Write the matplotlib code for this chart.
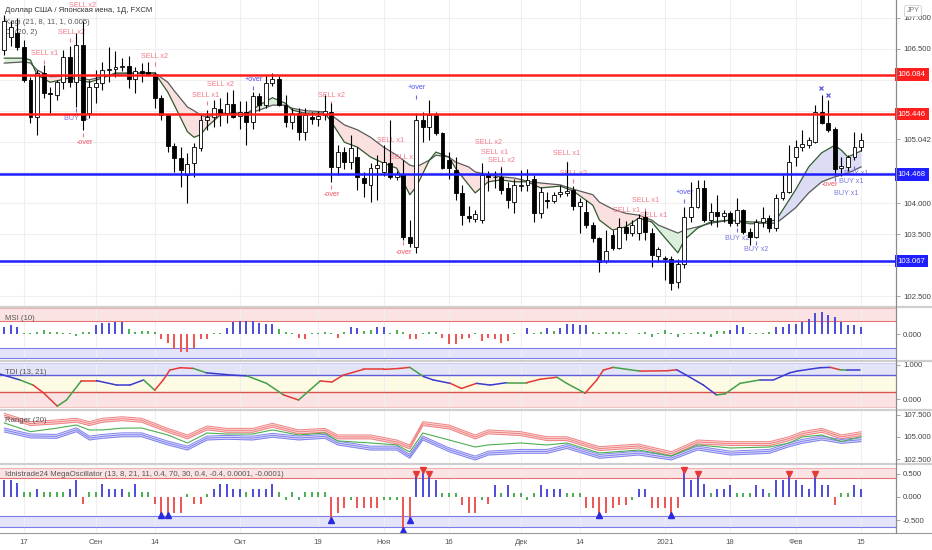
import numpy as np
import matplotlib
matplotlib.use('Agg')
import matplotlib.pyplot as plt
import matplotlib.transforms as mtransforms
from matplotlib.lines import Line2D

plt.rcParams['font.family'] = ['Liberation Sans', 'DejaVu Sans']

# ---------------- data (USD/JPY daily, FXCM) ----------------
opens = [106.48, 106.70, 106.76, 106.53, 106.00, 105.40, 106.11, 105.79, 105.75, 105.96,
         106.37, 105.96, 106.56, 105.46, 105.88, 105.95, 106.16, 106.18, 106.20, 106.23,
         106.02, 106.15, 106.13, 106.10, 105.70, 105.43, 104.93, 104.73, 104.46, 104.65,
         104.90, 105.35, 105.40, 105.53, 105.47, 105.61, 105.41, 105.48, 105.32, 105.74,
         105.59, 105.95, 106.02, 105.60, 105.32, 105.46, 105.15, 105.40, 105.36, 105.43,
         105.48, 104.59, 104.83, 104.67, 104.75, 104.41, 104.30, 104.57, 104.50, 104.65,
         104.43, 104.48, 103.45, 103.29, 105.35, 105.24, 105.43, 105.14, 104.70, 104.54,
         104.17, 103.80, 103.75, 103.73, 104.46, 104.43, 104.43, 104.25, 104.02, 104.28,
         104.30, 104.40, 103.84, 104.05, 104.04, 104.15, 104.17, 104.22, 103.96, 103.86,
         103.65, 103.44, 103.06, 103.49, 103.28, 103.62, 103.52, 103.52, 103.78, 103.52,
         103.15, 103.12, 103.10, 102.73, 103.02, 103.78, 103.94, 104.25, 103.73, 103.86,
         103.80, 103.84, 103.68, 103.89, 103.54, 103.46, 103.70, 103.76, 103.60, 104.09,
         104.19, 104.75, 104.91, 104.94, 105.00, 105.48, 105.30, 105.20, 104.57, 104.59,
         104.75, 104.91]
highs = [107.05, 106.95, 107.00, 106.64, 106.05, 106.16, 106.24, 105.88, 106.00, 106.48,
         106.54, 106.75, 106.95, 106.00, 106.16, 106.29, 106.53, 106.46, 106.35, 106.38,
         106.20, 106.27, 106.29, 106.12, 105.75, 105.45, 104.98, 104.91, 104.81, 104.98,
         105.43, 105.51, 105.67, 105.70, 105.80, 105.83, 105.65, 105.65, 105.80, 105.78,
         106.08, 106.11, 106.06, 105.75, 105.55, 105.55, 105.55, 105.48, 105.50, 105.75,
         105.62, 104.94, 104.92, 105.10, 104.91, 104.50, 104.65, 104.78, 104.94, 105.35,
         104.52, 104.70, 103.73, 105.46, 105.48, 105.67, 105.48, 105.15, 104.83, 104.75,
         104.30, 103.95, 103.90, 104.65, 104.52, 104.52, 104.59, 104.35, 104.40, 104.54,
         104.55, 104.46, 104.27, 104.19, 104.19, 104.30, 104.67, 104.28, 104.08, 104.06,
         103.70, 103.46, 103.57, 103.57, 103.76, 103.72, 103.73, 103.83, 103.87, 103.60,
         103.30, 103.15, 103.15, 103.10, 103.94, 104.35, 104.38, 104.38, 104.00, 104.14,
         103.90, 103.88, 104.09, 103.91, 103.60, 103.75, 103.94, 103.82, 104.15, 104.46,
         104.94, 105.03, 105.19, 105.08, 105.59, 105.75, 105.67, 105.24, 104.75, 104.78,
         105.16, 105.14]
lows = [106.40, 106.55, 106.48, 105.97, 105.30, 105.11, 105.70, 105.46, 105.67, 105.85,
        105.88, 105.56, 105.19, 105.38, 105.62, 105.83, 105.96, 106.05, 106.15, 105.87,
        105.79, 105.96, 106.06, 105.54, 105.35, 104.83, 104.51, 104.27, 104.00, 104.43,
        104.85, 105.19, 105.24, 105.25, 105.30, 105.38, 105.20, 104.94, 105.20, 105.50,
        105.55, 105.90, 105.57, 105.24, 105.20, 105.03, 105.03, 105.28, 105.25, 105.35,
        104.35, 104.46, 104.55, 104.56, 104.22, 104.10, 104.02, 104.05, 104.45, 104.40,
        104.38, 103.41, 103.29, 103.20, 104.99, 105.03, 105.10, 104.55, 104.40, 104.06,
        103.65, 103.70, 103.70, 103.68, 104.20, 104.25, 104.15, 103.93, 103.84, 104.20,
        104.20, 103.70, 103.76, 103.93, 104.00, 104.10, 104.12, 103.90, 103.52, 103.60,
        103.38, 102.89, 103.03, 103.24, 103.26, 103.41, 103.47, 103.41, 103.40, 102.97,
        103.05, 102.76, 102.60, 102.63, 102.95, 103.70, 103.92, 103.70, 103.65, 103.62,
        103.70, 103.64, 103.64, 103.50, 103.33, 103.44, 103.62, 103.54, 103.55, 104.05,
        104.17, 104.60, 104.85, 104.90, 104.98, 105.28, 105.15, 104.46, 104.45, 104.52,
        104.70, 104.85]
closes = [106.95, 106.85, 106.53, 106.00, 105.40, 106.11, 105.79, 105.77, 105.96, 106.37,
          105.96, 106.56, 105.35, 105.88, 105.95, 106.16, 106.18, 106.20, 106.23, 106.01,
          106.15, 106.11, 106.10, 105.70, 105.43, 104.93, 104.73, 104.54, 104.64, 104.91,
          105.35, 105.40, 105.54, 105.47, 105.61, 105.40, 105.48, 105.32, 105.74, 105.59,
          105.95, 106.02, 105.59, 105.32, 105.46, 105.15, 105.43, 105.36, 105.41, 105.50,
          104.59, 104.83, 104.67, 104.90, 104.43, 104.33, 104.57, 104.62, 104.67, 104.43,
          104.48, 103.45, 103.36, 105.35, 105.24, 105.43, 105.14, 104.57, 104.57, 104.17,
          103.81, 103.76, 103.83, 104.46, 104.43, 104.42, 104.22, 104.06, 104.29, 104.30,
          104.38, 103.84, 104.19, 104.04, 104.14, 104.18, 104.20, 103.96, 104.02, 103.65,
          103.44, 103.05, 103.23, 103.28, 103.62, 103.52, 103.65, 103.76, 103.54, 103.17,
          103.26, 103.10, 102.71, 103.02, 103.78, 103.94, 104.25, 103.73, 103.86, 103.80,
          103.84, 103.68, 103.89, 103.54, 103.46, 103.70, 103.76, 103.60, 104.09, 104.19,
          104.67, 104.91, 104.96, 105.03, 105.48, 105.30, 105.19, 104.56, 104.60, 104.75,
          104.91, 105.03]

date_pos = [3, 14, 23, 36, 48, 58, 68, 79, 88, 101, 111, 121, 131]
date_labels = ['17', 'Сен', '14', 'Окт', '19', 'Ноя', '16', 'Дек', '14', '2021', '18', 'Фев', '15']

level_values = [106.084, 105.446, 104.468, 103.067]
level_colors = ['#ff1e1e', '#ff1e1e', '#1e1eff', '#1e1eff']
price_ticks = [102.5, 103.5, 104.0, 105.042, 106.5, 107.0]

# Kagi lines (read at sample bars)
kagi_idx = [0, 3, 4, 5, 7, 10, 13, 15, 17, 21, 23, 25, 26, 28, 29, 30, 31, 33, 35, 37,
            39, 41, 43, 44, 46, 49, 50, 52, 54, 56, 58, 60, 62, 63, 65, 66, 68, 69, 71, 72,
            74, 76, 78, 80, 82, 85, 87, 90, 91, 93, 95, 97, 99, 100, 103, 104, 106, 108, 111, 114,
            116, 118, 119, 121, 123, 125, 127, 128, 129, 131]
kagi_fast = [106.35, 106.35, 106.32, 106.08, 105.96, 106.03, 105.96, 106.03, 106.11, 106.11,
             106.11, 105.80, 105.59, 105.16, 105.07, 105.11, 105.24, 105.43, 105.46, 105.45,
             105.59, 105.71, 105.62, 105.51, 105.46, 105.46, 105.32, 104.99, 104.91, 104.75,
             104.65, 104.57, 104.14, 104.27, 104.70, 104.83, 104.75, 104.57, 104.30, 104.17,
             104.35, 104.38, 104.35, 104.35, 104.25, 104.28, 104.20, 103.97, 103.73, 103.57,
             103.62, 103.76, 103.70, 103.57, 103.20, 103.41, 103.60, 103.70, 103.73, 103.70,
             103.70, 103.73, 103.89, 104.22, 104.59, 104.82, 104.94, 104.86, 104.75, 104.85]
kagi_slow = [106.27, 106.29, 106.27, 106.16, 106.05, 106.06, 106.00, 106.05, 106.09, 106.11,
             106.11, 105.96, 105.82, 105.56, 105.50, 105.43, 105.40, 105.46, 105.46, 105.45,
             105.51, 105.59, 105.59, 105.54, 105.50, 105.48, 105.43, 105.27, 105.19, 105.07,
             104.91, 104.78, 104.62, 104.59, 104.70, 104.78, 104.75, 104.67, 104.59, 104.51,
             104.46, 104.43, 104.41, 104.36, 104.33, 104.30, 104.23, 104.14, 104.02, 103.91,
             103.84, 103.81, 103.73, 103.65, 103.52, 103.57, 103.62, 103.68, 103.73, 103.67,
             103.68, 103.68, 103.76, 103.93, 104.17, 104.35, 104.43, 104.46, 104.49, 104.59]
kagi_fills = [(0, 5, '#dcefdc'), (5, 39, '#fbe0e0'), (39, 44, '#dcefdc'), (44, 65, '#fbe0e0'),
              (65, 68, '#dcefdc'), (68, 99, '#fbe0e0'), (99, 118, '#dcefdc'), (118, 131, '#dcdcf4')]

sell_notes = [(12.0, 107.21, 'SELL x2'), (10.2, 106.76, 'SELL x2'), (6.1, 106.43, 'SELL x1'),
              (23.0, 106.37, 'SELL x2'), (33.1, 105.92, 'SELL x2'), (30.8, 105.74, 'SELL x1'),
              (50.0, 105.74, 'SELL x2'), (59.0, 105.01, 'SELL x1'), (61.0, 104.75, 'SELL x1'),
              (74.1, 104.99, 'SELL x2'), (74.9, 104.82, 'SELL x1'), (76.0, 104.69, 'SELL x2'),
              (86.0, 104.80, 'SELL x1'), (87.0, 104.49, 'SELL x2'), (95.2, 103.88, 'SELL x1'),
              (98.0, 104.04, 'SELL x1'), (99.3, 103.80, 'SELL x1')]
buy_notes = [(11.0, 105.38, 'BUY x1'), (112.0, 103.44, 'BUY x2'), (115.0, 103.26, 'BUY x2'),
             (130.3, 104.48, 'BUY x1'), (129.5, 104.35, 'BUY x1'), (128.8, 104.16, 'BUY x1')]
over_up = [(38.2, 106.00), (63.1, 105.87), (104.1, 104.17)]
over_dn = [(12.3, 104.98), (50.1, 104.14), (61.1, 103.21), (126.3, 104.31)]
cross_marks = [(124.9, 105.87), (126.0, 105.75)]
sell_ticks = [(10, 106.64), (6, 106.29), (23, 106.26), (31, 105.62), (50, 105.62), (59, 104.90),
              (61, 104.65), (76, 104.57), (86, 104.65), (87, 104.36), (98, 103.89), (12, 105.11),
              (50, 104.27), (61, 103.36)]
buy_ticks = [(11, 105.51), (38, 105.87), (63, 105.72), (104, 104.04), (112, 103.57),
             (115, 103.36), (127, 104.40), (130, 104.57)]

msi_vals = [0.28, 0.35, 0.28, 0.03, 0.05, 0.09, 0.15, 0.06, 0.06, 0.03,
            0.04, -0.06, 0.06, 0.09, 0.35, 0.41, 0.44, 0.47, 0.47, 0.19,
            0.09, 0.13, 0.13, 0.06, -0.20, -0.33, -0.59, -0.68, -0.68, -0.55,
            -0.20, -0.20, 0.03, 0.03, 0.22, 0.47, 0.51, 0.51, 0.51, 0.44,
            0.38, 0.38, 0.18, 0.09, 0.03, -0.17, -0.19, 0.03, 0.03, 0.06,
            0.03, -0.17, 0.09, 0.28, 0.22, 0.13, 0.15, 0.28, 0.28, 0.03,
            0.15, 0.06, -0.19, -0.19, 0.03, 0.06, 0.06, -0.15, -0.38, -0.38,
            -0.20, -0.17, 0.03, -0.26, -0.17, -0.20, -0.33, -0.26, 0.03, 0.02,
            0.22, 0.03, 0.06, 0.22, 0.13, 0.22, 0.38, 0.38, 0.35, 0.35,
            0.06, 0.03, 0.06, 0.06, 0.06, 0.03, 0.02, 0.03, 0.06, -0.13,
            0.03, 0.15, 0.03, -0.13, 0.03, 0.03, 0.06, 0.06, -0.10, 0.13,
            0.13, 0.15, 0.35, 0.26, 0.03, 0.03, 0.03, 0.06, 0.26, 0.28,
            0.38, 0.38, 0.47, 0.56, 0.79, 0.86, 0.73, 0.67, 0.47, 0.35,
            0.35, 0.26]
msi_cols = ("bbbggggggg" "ggggbbbbbg" "ggggrrrrrr" "rrggbbbbbb" "bbgggrrggg"
            "grgbbggbbg" "ggrrgggrrr" "rrgrrrrrgg" "bggbgbbbbb" "gggggggggg"
            "gggggggggg" "gbbbggggbb" "bbbbbbbbbb" "bb")

tdi_x = [-0.7, 2.4, 4.4, 6.0, 8.1, 9.5, 11.8, 14.1, 17.2, 19.2, 21.3, 23.0, 24.3, 25.3, 26.9,
         28.9, 30.9, 35.0, 37.1, 40.1, 42.7, 45.0, 46.7, 48.3, 50.1, 51.8, 54.9, 58.0, 60.5,
         62.0, 64.1, 65.6, 68.2, 69.9, 72.2, 74.3, 76.8, 79.9, 81.9, 84.5, 86.0, 88.8, 90.6,
         91.6, 93.1, 97.2, 101.3, 102.8, 104.3, 106.9, 108.9, 110.2, 112.5, 115.5, 117.6,
         120.1, 121.2, 124.7, 126.3, 127.8, 128.8, 130.8]
tdi_v = [0.735, 0.56, 0.41, 0.18, -0.21, -0.03, 0.54, 0.54, 0.41, 0.41, 0.56, 0.26, 0.56, 0.85,
         0.92, 0.90, 0.77, 0.70, 0.68, 0.46, 0.12, -0.03, 0.26, 0.53, 0.50, 0.70, 0.87, 0.87,
         0.90, 0.93, 0.66, 0.56, 0.46, 0.31, 0.46, 0.41, 0.48, 0.48, 0.58, 0.64, 0.46, 0.17,
         0.56, 0.85, 0.93, 0.82, 0.83, 0.86, 0.70, 0.41, 0.12, 0.15, 0.46, 0.56, 0.56, 0.77,
         0.82, 0.92, 0.93, 0.86, 0.85, 0.85]
tdi_cols = ("bgrrggrbbb" "grrrrgbbgg" "rggrrrrrrg" "bbrrbbgrrg" "grrrgrrbbb"
            "gggbbbbbrg" "b")

rng_idx = [0, 4, 8, 11, 13, 15, 18, 21, 25, 28, 31, 34, 38, 41, 45, 49, 51, 56, 60, 62,
           64, 68, 72, 74, 79, 83, 86, 91, 97, 102, 106, 111, 117, 120, 122, 125, 128, 131]
rng_red_top = [107.69, 106.74, 106.93, 107.12, 106.74, 107.12, 107.30, 107.12, 105.98, 105.23,
               106.25, 105.98, 105.98, 106.55, 105.80, 105.98, 105.23, 105.23, 104.66, 104.09,
               106.74, 106.36, 105.23, 105.80, 105.60, 105.03, 105.03, 103.90, 104.20, 103.33,
               104.66, 104.47, 104.47, 105.03, 105.60, 105.98, 105.23, 105.60]
rng_mid = [106.59, 105.60, 106.00, 106.36, 105.80, 105.80, 106.00, 106.02, 105.23, 104.32,
           105.45, 105.34, 105.34, 105.80, 105.23, 105.45, 104.55, 104.32, 104.10, 103.30,
           105.45, 104.66, 103.86, 104.10, 104.32, 104.09, 104.32, 103.18, 103.52, 102.84,
           104.10, 103.75, 103.86, 104.32, 105.00, 105.23, 104.47, 105.03]
rng_blue_bot = [105.57, 104.90, 104.85, 105.60, 104.66, 104.85, 105.03, 105.03, 104.09, 103.52,
                104.66, 104.74, 104.66, 104.97, 104.66, 104.85, 104.09, 103.52, 103.52, 102.58,
                104.66, 103.33, 102.39, 102.95, 103.15, 103.15, 103.70, 102.58, 102.95, 102.39,
                103.52, 102.95, 103.15, 103.90, 104.28, 104.66, 104.28, 104.47]

mega_vals = [0.36, 0.36, 0.29, 0.11, 0.11, 0.18, 0.11, 0.11, 0.11, 0.11,
             0.18, 0.36, -0.15, 0.11, 0.11, 0.28, 0.18, 0.18, 0.18, 0.11,
             0.28, 0.11, 0.11, -0.15, -0.38, -0.38, -0.33, -0.33, 0.06, -0.15,
             -0.15, 0.06, 0.18, 0.28, 0.28, 0.18, 0.18, 0.11, 0.18, 0.18,
             0.18, 0.28, 0.11, -0.06, 0.11, -0.06, 0.11, 0.11, 0.11, 0.11,
             -0.49, -0.33, -0.24, -0.06, -0.24, -0.24, -0.24, -0.24, -0.06, -0.06,
             -0.06, -0.70, -0.49, 0.47, 0.54, 0.47, 0.36, 0.09, 0.09, 0.09,
             -0.17, -0.33, -0.33, -0.06, -0.15, 0.26, 0.09, 0.26, 0.09, 0.09,
             -0.06, 0.09, 0.26, 0.18, 0.18, 0.18, 0.09, 0.09, 0.09, -0.24,
             -0.24, -0.38, -0.33, -0.24, -0.17, -0.17, -0.06, 0.18, 0.18, -0.24,
             -0.24, -0.24, -0.38, -0.24, 0.54, 0.36, 0.47, 0.28, 0.09, 0.18,
             0.18, 0.26, 0.09, 0.09, 0.09, 0.26, 0.18, 0.09, 0.36, 0.36,
             0.47, 0.36, 0.26, 0.18, 0.47, 0.26, 0.26, -0.17, 0.09, 0.09,
             0.26, 0.18]
mega_cols = ("bbbggbgggg" "bbrggbbbbg" "bggrrrrrgr" "rgbbbbbgbb" "bbgggggggg"
             "rrrgrrrrgg" "grrbbbbggg" "rrrgrbgbgg" "ggbbbbgggr" "rrrrrrgbbr"
             "rrrrbbbbgb" "bbgggbbgbb" "bbbbbbbrgg" "bb")
mega_up_marks = [24, 25, 50, 61, 62, 91, 102]
mega_down_marks = [63, 64, 65, 104, 106, 120, 124]

# ---------------- layout ----------------
W, H = 932, 550
PR = 896
X0, X1 = -0.66, 136.35
FS = 5.6
BAR_C = {'b': '#4b4bdc', 'g': '#4caf50', 'r': '#ef5350'}
LINE_C = {'b': '#3a3ad0', 'g': '#43a047', 'r': '#e53935'}

fig = plt.figure(figsize=(W / 100, H / 100), dpi=100)


def pane(top, bottom):
    return fig.add_axes([0, 1 - bottom / H, PR / W, (bottom - top) / H])


def style(a, ylim, ticks, labels):
    a.set_xlim(X0, X1)
    a.set_ylim(*ylim)
    a.set_xticks(date_pos)
    a.tick_params(axis='x', length=0, labelbottom=False)
    a.grid(axis='x', color='#efeff2', lw=0.8)
    a.set_axisbelow(True)
    a.yaxis.tick_right()
    a.set_yticks(ticks)
    a.set_yticklabels(labels)
    a.tick_params(axis='y', length=3, width=0.6, color='#9a9a9a', labelsize=FS,
                  labelcolor='#444444', pad=2)
    for s in ('left', 'top', 'bottom'):
        a.spines[s].set_visible(False)
    a.spines['right'].set_color('#8a8a8a')
    a.spines['right'].set_linewidth(0.8)


def legend(a, text, dy, color='#555555'):
    a.annotate(text, xy=(0, 1), xycoords='axes fraction', xytext=(5, -dy),
               textcoords='offset pixels', ha='left', va='center', fontsize=FS,
               color=color, zorder=2)


# ---------------- main price pane ----------------
ax = pane(0, 306)
style(ax, (102.34, 107.291), price_ticks, [f'{v:.3f}' for v in price_ticks])
for v in np.arange(102.5, 107.01, 0.5):
    ax.axhline(v, color='#efeff2', lw=0.8, zorder=0)

kx = np.array(kagi_idx, dtype=float)
kf = np.array(kagi_fast)
ks = np.array(kagi_slow)
for s, e, col in kagi_fills:
    m = (kx >= s) & (kx <= e)
    ax.fill_between(kx[m], kf[m], ks[m], color=col, lw=0, zorder=1)
ax.plot(kx, ks, color='#5a5a5a', lw=0.9, zorder=2)
ax.plot(kx, kf, color='#2f5a2f', lw=0.9, zorder=2)

o = np.array(opens)
h = np.array(highs)
l = np.array(lows)
c = np.array(closes)
idx = np.arange(len(o))
ax.vlines(idx, l, h, color='black', lw=0.8, zorder=3)
ax.bar(idx, np.maximum(np.abs(c - o), 0.015), 0.6, bottom=np.minimum(o, c),
       color=np.where(c >= o, 'white', 'black'), edgecolor='black', linewidth=0.6, zorder=3.5)

for i, p, t in sell_notes:
    ax.text(i, p, t, color='#f07a88', fontsize=5.2, ha='center', va='center', zorder=2.5)
for i, p, t in buy_notes:
    ax.text(i, p, t, color='#7a7ae0', fontsize=5.2, ha='center', va='center', zorder=2.5)
for i, p in over_up:
    ax.text(i, p, '+over', color='#5050f0', fontsize=5.2, ha='center', va='center', zorder=2.5)
for i, p in over_dn:
    ax.text(i, p, '-over', color='#f05060', fontsize=5.2, ha='center', va='center', zorder=2.5)
ax.plot([t[0] for t in cross_marks], [t[1] for t in cross_marks], ls='none', marker='x',
        ms=2.5, mew=0.9, color='#5a5ae0', zorder=4)
ax.plot([t[0] for t in sell_ticks], [t[1] for t in sell_ticks], ls='none', marker='|',
        ms=3, mew=0.8, color='#f07a88', zorder=2.5)
ax.plot([t[0] for t in buy_ticks], [t[1] for t in buy_ticks], ls='none', marker='|',
        ms=3, mew=0.8, color='#6a6ae6', zorder=2.5)

trans = mtransforms.blended_transform_factory(ax.transAxes, ax.transData)
for val, col in zip(level_values, level_colors):
    ax.axhline(val, color=col, lw=1.8, zorder=4)
    ax.text(1.002, val, f'{val:.3f}', transform=trans, ha='left', va='center', fontsize=FS,
            color='white', zorder=6, clip_on=False,
            bbox=dict(boxstyle='square,pad=0.35', fc=col, ec='none'))

legend(ax, 'Доллар США / Японская иена, 1Д, FXCM', 11, '#333333')
legend(ax, 'Kagi (21, 8, 11, 1, 0.005)', 22)
legend(ax, 'CI (20, 2)', 33)

fig.text(913 / W, 1 - 11 / H, 'JPY', fontsize=5, color='#777777', ha='center', va='center',
         bbox=dict(boxstyle='round,pad=0.3', fc='white', ec='#cfcfcf', lw=0.6))

# ---------------- MSI ----------------
ax_msi = pane(307, 360)
style(ax_msi, (-1.0, 1.04), [0.0], ['0.000'])
ax_msi.axhspan(0.51, 0.99, color='#fbe3e3', lw=0, zorder=0.5)
ax_msi.axhline(0.51, color='#e57373', lw=0.8)
ax_msi.axhline(0.99, color='#f0b0b0', lw=0.8)
ax_msi.axhspan(-0.93, -0.55, color='#e4e4fa', lw=0, zorder=0.5)
ax_msi.axhline(-0.55, color='#7b7be6', lw=0.8)
ax_msi.axhline(-0.93, color='#7b7be6', lw=0.8)
ax_msi.vlines(idx, 0, msi_vals, colors=[BAR_C[k] for k in msi_cols], lw=1.4, zorder=3)
legend(ax_msi, 'MSI (10)', 11)

# ---------------- TDI ----------------
ax_tdi = pane(362, 409)
style(ax_tdi, (-0.294, 1.088), [0.0, 1.0], ['0.000', '1.000'])
ax_tdi.axhspan(0.7, 1.06, color='#e4e4f8', lw=0, zorder=0.5)
ax_tdi.axhspan(0.2, 0.7, color='#fdfbe4', lw=0, zorder=0.5)
ax_tdi.axhspan(-0.23, 0.2, color='#fbe3e3', lw=0, zorder=0.5)
ax_tdi.axhline(1.06, color='#c8c8f0', lw=0.6)
ax_tdi.axhline(0.7, color='#5c5cd6', lw=1.0)
ax_tdi.axhline(0.2, color='#d9534f', lw=1.0)
ax_tdi.axhline(-0.23, color='#f0b8b8', lw=0.6)
for k in range(len(tdi_x) - 1):
    ax_tdi.plot(tdi_x[k:k + 2], tdi_v[k:k + 2], color=LINE_C[tdi_cols[k]], lw=1.1,
                solid_capstyle='round', zorder=3)
legend(ax_tdi, 'TDI (13, 21)', 10)

# ---------------- Ranger ----------------
ax_rng = pane(411, 462)
style(ax_rng, (102.16, 107.95), [102.5, 105.0, 107.5], ['102.500', '105.000', '107.500'])
rx = np.array(rng_idx, dtype=float)
rt = np.array(rng_red_top)
rb = np.array(rng_blue_bot)
ax_rng.fill_between(rx, rt, rt - 0.44, color='#fbd8d8', lw=0, zorder=1)
ax_rng.fill_between(rx, rb, rb + 0.44, color='#dcdcf8', lw=0, zorder=1)
for off in (0.0, 0.22, 0.44):
    ax_rng.plot(rx, rt - off, color='#f08080', lw=0.7, zorder=2)
    ax_rng.plot(rx, rb + off, color='#7f7ff0', lw=0.7, zorder=2)
ax_rng.plot(rx, rng_mid, color='#4caf50', lw=0.8, zorder=2)
legend(ax_rng, 'Ranger (20)', 9)

# ---------------- MegaOscillator ----------------
ax_mega = pane(465, 532)
style(ax_mega, (-0.745, 0.681), [-0.5, 0.0, 0.5], ['-0.500', '0.000', '0.500'])
ax_mega.axhspan(0.4, 0.62, color='#fbe3e3', lw=0, zorder=0.5)
ax_mega.axhline(0.4, color='#e57373', lw=0.8)
ax_mega.axhline(0.62, color='#f0b0b0', lw=0.8)
ax_mega.axhspan(-0.64, -0.4, color='#e4e4fa', lw=0, zorder=0.5)
ax_mega.axhline(-0.4, color='#7b7be6', lw=0.8)
ax_mega.axhline(-0.64, color='#7b7be6', lw=0.8)
mv = np.array(mega_vals)
ax_mega.vlines(idx, 0, mv, colors=[BAR_C[k] for k in mega_cols], lw=1.4, zorder=3)
ax_mega.plot(mega_up_marks, mv[mega_up_marks], ls='none', marker='^', ms=4.2,
             color='#2a2ae0', zorder=4)
ax_mega.plot(mega_down_marks, mv[mega_down_marks] + 0.03, ls='none', marker='v', ms=4.2,
             color='#e53935', zorder=4)
legend(ax_mega, 'Idnistrade24 MegaOscillator (13, 8, 21, 11, 0.4, 70, 30, 0.4, -0.4, 0.0001, -0.0001)', 10)
ax_mega.set_xticklabels(date_labels)
ax_mega.tick_params(axis='x', labelbottom=True, labelsize=FS, labelcolor='#555555', pad=5)

# pane separators and price-scale border
for yp in (306.5, 361.0, 410.0, 463.5):
    fig.add_artist(Line2D([0, 1], [1 - yp / H, 1 - yp / H], transform=fig.transFigure,
                          color='#cfcfcf', lw=1.6))
fig.add_artist(Line2D([0, 1], [1 - 532.5 / H, 1 - 532.5 / H], transform=fig.transFigure,
                      color='#9a9a9a', lw=0.8))
fig.add_artist(Line2D([PR / W, PR / W], [1 - 533 / H, 1], transform=fig.transFigure,
                      color='#8a8a8a', lw=0.8))

fig.savefig('out.png', dpi=100)
